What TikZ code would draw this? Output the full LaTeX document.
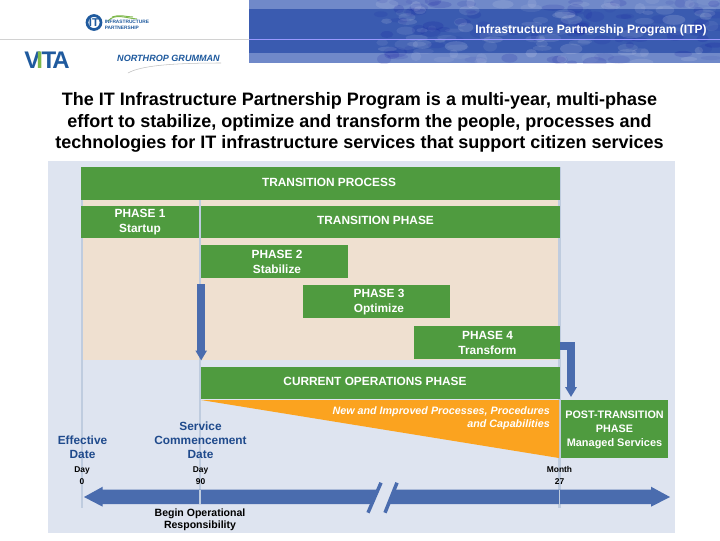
\documentclass[tikz,border=0pt]{standalone}
\usepackage{fontspec}
\setmainfont{Liberation Sans}
\definecolor{bgblue}{HTML}{DEE4F0}
\definecolor{beige}{HTML}{EFE0D0}
\definecolor{barg}{HTML}{4F9B3F}
\definecolor{arrowb}{HTML}{4A6CAE}
\definecolor{vline}{HTML}{BFCCDF}
\definecolor{orangef}{HTML}{FBA31F}
\definecolor{navy}{HTML}{1F4A8C}
\definecolor{banlight}{HTML}{7089C9}
\definecolor{bandark}{HTML}{3A5BB0}
\definecolor{logob}{HTML}{1F5A9E}
\definecolor{logog}{HTML}{7DB84A}
\usetikzlibrary{arrows.meta}
\tikzset{
  gbar/.style={fill=barg,draw=none,inner sep=0pt},
  gtext/.style={text=white,font=\bfseries\fontsize{8.9pt}{11.2pt}\selectfont,align=center,inner sep=0pt},
  datelab/.style={text=navy,font=\bfseries\fontsize{8.9pt}{10.5pt}\selectfont,align=center,inner sep=0pt},
  daylab/.style={text=black,font=\bfseries\fontsize{6.3pt}{9pt}\selectfont,align=center,inner sep=0pt},
  vl/.style={vline,line width=1.6pt}
}
\newcommand{\gb}[5]{\node[gbar,minimum width=#3*0.75pt,minimum height=#4*0.75pt] (#1) at (#2) {};}
\begin{document}
\begin{tikzpicture}[x=0.75pt,y=-0.75pt]
\useasboundingbox (0,0) rectangle (720,540);
\fill[white] (0,0) rectangle (720,540);
% header banner
\fill[banlight] (249,0) rectangle (720,63);
\fill[bandark] (249,9) rectangle (720,53);
\begin{scope}
\clip (249,0) rectangle (720,63);
\pgfmathsetseed{41}
\foreach \i in {1,...,170}{
  \pgfmathsetmacro{\px}{380+340*rnd}
  \pgfmathsetmacro{\py}{63*rnd}
  \pgfmathsetmacro{\rx}{4+8*rnd}
  \pgfmathsetmacro{\ry}{2+3.5*rnd}
  \pgfmathsetmacro{\op}{0.05+0.09*rnd}
  \ifodd\i
    \fill[white,opacity=\op] (\px,\py) ellipse [x radius=\rx, y radius=\ry];
  \else
    \fill[blue!60!black,opacity=\op] (\px,\py) ellipse [x radius=\rx, y radius=\ry];
  \fi
}
\end{scope}
\draw[gray!35,line width=0.6pt] (0,39.5) -- (249,39.5);
\draw[white!60!blue,line width=0.5pt] (249,39.5) -- (720,39.5);
\node[text=white,font=\bfseries\fontsize{9.03pt}{10pt}\selectfont,anchor=east,inner sep=0pt] (bannertext) at (707,30.5) {Infrastructure Partnership Program (ITP)};
% logos
\draw[logob,line width=2pt] (94,22.5) circle [radius=7];
\node[logob,font=\bfseries\fontsize{8.5pt}{8.5pt}\selectfont,inner sep=0pt] (itlogo) at (94,22.5) {IT};
\draw[logog,line width=0.7pt] (108,21) .. controls (115,13) and (125,18) .. (137,19);
\draw[logog,line width=0.7pt] (112,17) .. controls (119,14) and (127,17) .. (133,17);
\node[logob,font=\bfseries\fontsize{3.6pt}{4pt}\selectfont,align=left,anchor=west,inner sep=0pt] (itname) at (104.5,25) {INFRASTRUCTURE\\PARTNERSHIP};
\node[logob,font=\bfseries\fontsize{18pt}{18pt}\selectfont,inner sep=0pt] (vita) at (47,60.5) {V\kern-3pt\textcolor{logog}{I}\kern-1pt T\kern-3pt A};
\node[logob,font=\bfseries\itshape\fontsize{6.8pt}{7pt}\selectfont,inner sep=0pt] (ng) at (168.5,58.5) {NORTHROP GRUMMAN};
\draw[gray!50,line width=0.4pt] (128,73) .. controls (140,66) and (170,63) .. (221,63);
% title
\node[font=\bfseries\fontsize{13.5pt}{16.2pt}\selectfont,align=center,inner sep=0pt] (title) at (359.5,122.5) {The IT Infrastructure Partnership Program is a multi-year, multi-phase\\effort to stabilize, optimize and transform the people, processes and\\technologies for IT infrastructure services that support citizen services};
% diagram background
\fill[bgblue] (48,161) rectangle (675,533);
\fill[beige] (82,200) rectangle (559,360);
% vertical guide lines
\coordinate (v0t) at (82,167); \coordinate (v0b) at (82,508);
\coordinate (v1t) at (200,200); \coordinate (v1b) at (200,504);
\coordinate (v2t) at (559.5,167); \coordinate (v2b) at (559.5,508);
\draw[vl] (v0t) -- (v0b);
\draw[vl] (v1t) -- (v1b);
\draw[vl] (v2t) -- (v2b);
% green bars
\gb{tp}{320.5,183.5}{479}{33}{}
\gb{p1}{140,222}{118}{32.5}{}
\gb{trp}{380.5,222}{359}{32.5}{}
\gb{p2}{274.5,261.5}{146.5}{33}{}
\gb{p3}{376.5,301.5}{146.5}{33}{}
\gb{p4}{487,342.5}{146}{33}{}
\gb{co}{380.5,383}{359}{32.5}{}
\node[gtext] (ttp) at (329,182.5) {TRANSITION PROCESS};
\node[gtext] (tp1) at (140,222) {PHASE 1\\Startup};
\node[gtext] (ttrp) at (375.5,220.5) {TRANSITION PHASE};
\node[gtext] (tp2) at (277,261.5) {PHASE 2\\Stabilize};
\node[gtext] (tp3) at (379,302) {PHASE 3\\Optimize};
\node[gtext] (tp4) at (487.5,343) {PHASE 4\\Transform};
\node[gtext] (tco) at (375,381) {CURRENT OPERATIONS PHASE};
% orange wedge
\fill[orangef] (201,400) -- (559,400) -- (559,458) -- cycle;
\node[text=white,font=\bfseries\itshape\fontsize{8.05pt}{9.75pt}\selectfont,align=right,anchor=north east,inner sep=0pt] (newproc) at (550,406.5) {New and Improved Processes, Procedures\\and Capabilities};
\gb{pt}{614.5,429}{107}{58.5}{}
\node[gtext,font=\bfseries\fontsize{8.1pt}{10.5pt}\selectfont] (tpt) at (614.5,429.5) {POST-TRANSITION\\PHASE\\\fontsize{8.2pt}{10.5pt}\selectfont Managed Services};
% blue arrows
\coordinate (a1s) at (201.2,284); \coordinate (a1e) at (201.2,360.5);
\draw[arrowb,line width=5.6pt,-{Triangle[length=7.5pt,width=8.2pt]}] (a1s) -- (a1e);
\coordinate (a2b) at (571,345.5); \coordinate (a2e) at (571,397);
\draw[arrowb,line width=6pt,-{Triangle[length=7.5pt,width=8.4pt]}] (p4.east |- a2b) -- (a2b) -- (a2e);
% timeline
\coordinate (tl) at (84,497); \coordinate (tr) at (670,497);
\fill[arrowb] (tl) -- (102.7,486.7) -- (102.7,489.7) -- (378,489.7) -- (372,504) -- (102.7,504) -- (102.7,506.7) -- cycle;
\fill[arrowb] (tr) -- (651,486.7) -- (651,489.7) -- (394,489.7) -- (388.5,504) -- (651,504) -- (651,506.7) -- cycle;
\draw[vline,line width=1.4pt] (200,489.5) -- (200,504);
\draw[vline,line width=1.4pt] (559.5,489.5) -- (559.5,508);
\coordinate (s1a) at (381,482.7); \coordinate (s1b) at (368,512.7);
\coordinate (s2a) at (397,482.7); \coordinate (s2b) at (385,512.7);
\draw[arrowb,line width=2.6pt] (s1a) -- (s1b);
\draw[arrowb,line width=2.6pt] (s2a) -- (s2b);
% labels
\node[datelab] (eff) at (82.5,447.5) {Effective\\Date};
\node[datelab] (scd) at (200.5,440.5) {Service\\Commencement\\Date};
\node[daylab] (d0) at (82,475.5) {Day\\0};
\node[daylab] (d90) at (200.5,475.5) {Day\\90};
\node[daylab] (m27) at (559.5,475.5) {Month\\27};
\node[font=\bfseries\fontsize{7.9pt}{9pt}\selectfont,align=center,inner sep=0pt] (bor) at (200,519.5) {Begin Operational\\Responsibility};
\end{tikzpicture}
\end{document}
